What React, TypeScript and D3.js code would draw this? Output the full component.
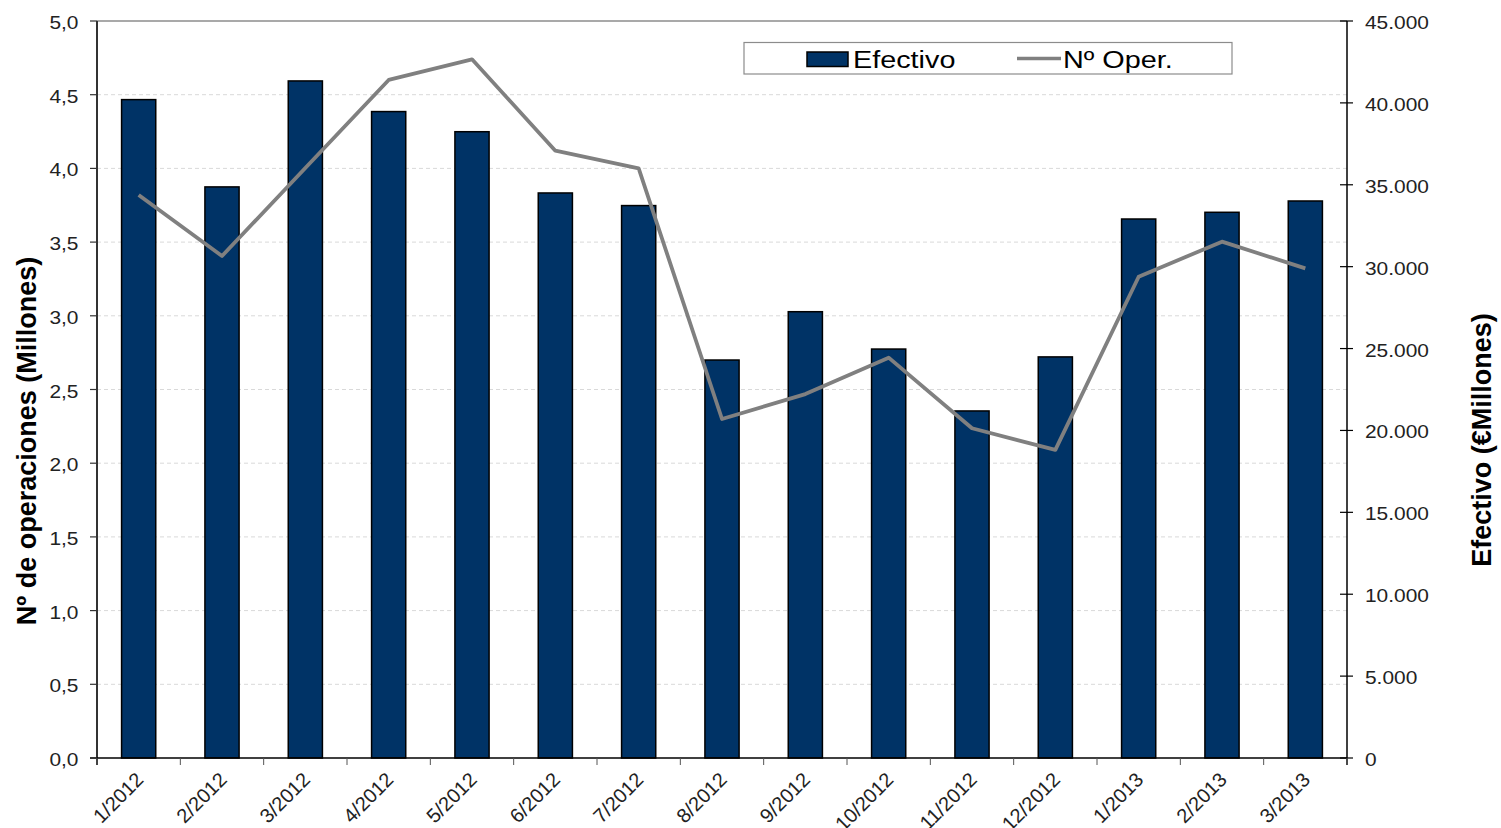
import React from "react";
import * as d3 from "d3";

const categories = ["1/2012","2/2012","3/2012","4/2012","5/2012","6/2012","7/2012","8/2012","9/2012","10/2012","11/2012","12/2012","1/2013","2/2013","3/2013"];
// Efectivo (€ millones) - bars, right axis
const efectivo = [40200, 34870, 41340, 39470, 38240, 34500, 33730, 24300, 27250, 24970, 21190, 24490, 32910, 33320, 34010];
// Nº operaciones (millones) - line, left axis
const operaciones = [3.82, 3.406, 4.003, 4.6, 4.74, 4.12, 4.0, 2.3, 2.469, 2.716, 2.237, 2.09, 3.265, 3.503, 3.322];
const leftTicks = [0, 0.5, 1, 1.5, 2, 2.5, 3, 3.5, 4, 4.5, 5];
const rightTicks = [0, 5000, 10000, 15000, 20000, 25000, 30000, 35000, 40000, 45000];
const leftTitle = "Nº de operaciones (Millones)";
const rightTitle = "Efectivo (€Millones)";
const legendBar = "Efectivo";
const legendLine = "Nº Oper.";

const W = 1501, H = 828;
const L = 97, R = 1347, T = 21, B = 758;
const FONT = "'Liberation Sans', Arial, sans-serif";

export default function App() {
  const x = d3.scaleBand<string>().domain(categories).range([L, R]).paddingInner(0.59).paddingOuter(0.295);
  const step = x.step();
  const yL = d3.scaleLinear().domain([0, 5]).range([B, T]);
  const yR = d3.scaleLinear().domain([0, 45000]).range([B, T]);
  const cx = (c: string) => (x(c) as number) + x.bandwidth() / 2;
  const line = d3.line<number>().x((_, i) => cx(categories[i])).y((v) => yL(v));
  const fmtL = (v: number) => v.toFixed(1).replace(".", ",");
  const fmtR = (v: number) => (v === 0 ? "0" : d3.format(",")(v).replace(/,/g, "."));
  const boundaries = d3.range(categories.length + 1).map((i) => L + i * step);

  return (
    <svg width={W} height={H} style={{ position: "absolute", left: 0, top: 0, background: "#fff" }} fontFamily={FONT}>
      <rect x={0} y={0} width={W} height={H} fill="#fff" />
      {/* gridlines */}
      {leftTicks.filter((t) => t > 0 && t < 5).map((t) => (
        <line key={"g" + t} x1={L} x2={R} y1={yL(t)} y2={yL(t)} stroke="#d9d9d9" strokeWidth={1} strokeDasharray="4,3" />
      ))}
      {/* top border */}
      <line x1={L} x2={R} y1={T} y2={T} stroke="#8c8c8c" strokeWidth={1.5} />
      {/* bars */}
      {categories.map((c, i) => (
        <rect key={c} x={x(c)} y={yR(efectivo[i])} width={x.bandwidth()} height={B - yR(efectivo[i])}
          fill="#003366" stroke="#000" strokeWidth={1.5} />
      ))}
      {/* line */}
      <path d={line(operaciones) || ""} fill="none" stroke="#808080" strokeWidth={3.8} strokeLinejoin="round" />
      {/* axes */}
      <line x1={L} x2={L} y1={T} y2={765} stroke="#333" strokeWidth={2} />
      <line x1={R} x2={R} y1={T} y2={765} stroke="#000" strokeWidth={1.5} />
      <line x1={L - 7} x2={R} y1={B} y2={B} stroke="#000" strokeWidth={1.5} />
      {leftTicks.map((t) => (
        <g key={"l" + t}>
          <line x1={L - 7} x2={L} y1={yL(t)} y2={yL(t)} stroke="#333" strokeWidth={1.2} />
          <text transform={`translate(78.5,${yL(t) + 8}) scale(1.1,1)`} textAnchor="end" fontSize={19} fill="#222">{fmtL(t)}</text>
        </g>
      ))}
      {rightTicks.map((t) => (
        <g key={"r" + t}>
          <line x1={R - 7} x2={R + 6} y1={yR(t)} y2={yR(t)} stroke="#000" strokeWidth={1.2} />
          <text transform={`translate(1365,${yR(t) + 8}) scale(1.1,1)`} textAnchor="start" fontSize={19} fill="#222">{fmtR(t)}</text>
        </g>
      ))}
      {boundaries.map((bx, i) => (
        <line key={"b" + i} x1={bx} x2={bx} y1={B} y2={765} stroke="#555" strokeWidth={1} />
      ))}
      {categories.map((c) => (
        <text key={"c" + c} transform={`translate(${cx(c) + 6},781) rotate(-45)`} textAnchor="end" fontSize={20} fill="#222">{c}</text>
      ))}
      {/* axis titles */}
      <text transform="translate(36,441) rotate(-90)" textAnchor="middle" fontSize={27} fontWeight="bold" fill="#000">{leftTitle}</text>
      <text transform="translate(1491,440) rotate(-90)" textAnchor="middle" fontSize={27} fontWeight="bold" fill="#000">{rightTitle}</text>
      {/* legend */}
      <rect x={744} y={42.5} width={488} height={31.5} fill="#fff" stroke="#8c8c8c" strokeWidth={1.2} />
      <rect x={807} y={52} width={41} height={14.5} fill="#003366" stroke="#000" strokeWidth={1.5} />
      <text transform="translate(853,67.5) scale(1.2,1)" fontSize={24} fill="#000">{legendBar}</text>
      <line x1={1017} x2={1061} y1={58.5} y2={58.5} stroke="#808080" strokeWidth={3.5} />
      <text transform="translate(1063,67.5) scale(1.2,1)" fontSize={24} fill="#000">{legendLine}</text>
    </svg>
  );
}
